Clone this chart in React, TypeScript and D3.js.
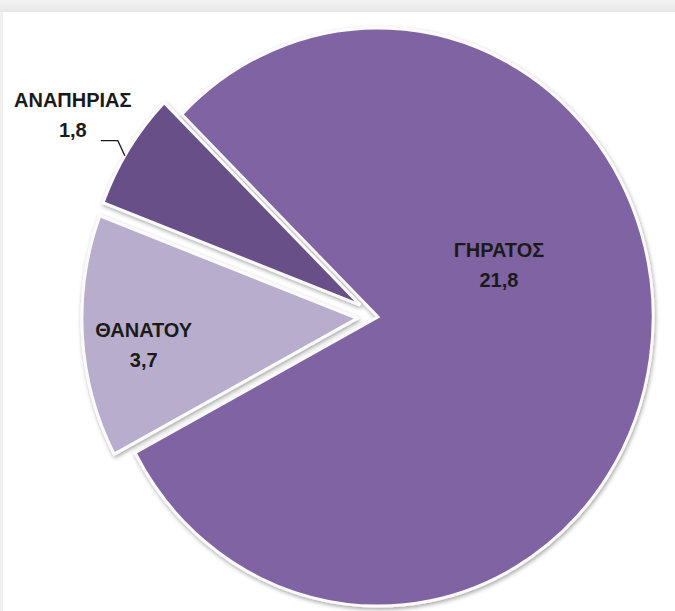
import React from "react";
import * as d3 from "d3";

const categories = ["ΓΗΡΑΤΟΣ", "ΘΑΝΑΤΟΥ", "ΑΝΑΠΗΡΙΑΣ"];
const values = [21.8, 3.7, 1.8];
const valueLabels = ["21,8", "3,7", "1,8"];
const colors = ["#8064A2", "#B8ADCC", "#674F87"];

const W = 675;
const H = 611;
const CX = 378;
const CY = 317;
const R = 289;
const SX = 0.952;
const START = (-45.5 * Math.PI) / 180;
const explode = [0, 22, 22];
// label placement: [angle (deg, clockwise from 12), radius fraction]
const labelPolar: [number, number][] = [
  [67.75, 0.475],
  [263.5, 0.857],
  [302.2, 1.311],
];

export default function App() {
  const pie = d3
    .pie<number>()
    .sort(null)
    .value((d) => d)
    .startAngle(START)
    .endAngle(START + 2 * Math.PI);
  const arcs = pie(values);
  const arc = d3.arc<d3.PieArcDatum<number>>().innerRadius(0).outerRadius(R);

  const offsets = arcs.map((a, i) => {
    const mid = (a.startAngle + a.endAngle) / 2;
    return [explode[i] * Math.sin(mid), -explode[i] * Math.cos(mid)];
  });

  const toScreen = (x: number, y: number) => [CX + SX * x, CY + y];

  const labels = labelPolar.map(([deg, f]) => {
    const a = (deg * Math.PI) / 180;
    return toScreen(R * f * Math.sin(a), -R * f * Math.cos(a));
  });

  // leader line for the smallest slice
  const small = arcs[2];
  const smid = (small.startAngle + small.endAngle) / 2 - (1.5 * Math.PI) / 180;
  const edge = toScreen(
    R * Math.sin(smid) + offsets[2][0],
    -R * Math.cos(smid) + offsets[2][1]
  );
  const elbow = [edge[0] - 7, edge[1] - 15];
  const lineStart = [elbow[0] - 17, elbow[1]];

  const font = "'Liberation Sans', Arial, sans-serif";

  return (
    <svg
      width={W}
      height={H}
      style={{ position: "absolute", left: 0, top: 0, background: "#fff" }}
    >
      <defs>
        <filter id="sh" x="-20%" y="-20%" width="140%" height="140%">
          <feDropShadow dx="1" dy="2" stdDeviation="2" floodColor="#000" floodOpacity="0.35" />
        </filter>
        <linearGradient id="topband" x1="0" y1="0" x2="0" y2="1">
          <stop offset="0" stopColor="#f4f4f4" />
          <stop offset="1" stopColor="#e6e6e6" />
        </linearGradient>
      </defs>
      <rect x={0} y={0} width={W} height={12} fill="url(#topband)" />
      <rect x={0} y={12} width={3} height={H - 12} fill="#f0f0f0" />
      <g transform={`translate(${CX},${CY}) scale(${SX},1)`}>
        {arcs.map((a, i) => (
          <path
            key={categories[i]}
            d={arc(a) || ""}
            transform={`translate(${offsets[i][0]},${offsets[i][1]})`}
            fill={colors[i]}
            stroke="#fbfbfb"
            strokeWidth={3}
            strokeLinejoin="miter"
            filter="url(#sh)"
          />
        ))}
      </g>
      <polyline
        points={`${lineStart[0]},${lineStart[1]} ${elbow[0]},${elbow[1]} ${edge[0]},${edge[1]}`}
        fill="none"
        stroke="#1a1a1a"
        strokeWidth={1.3}
      />
      {labels.map(([x, y], i) => (
        <text
          key={categories[i]}
          x={x}
          y={y}
          textAnchor="middle"
          fontFamily={font}
          fontWeight="bold"
          fontSize={20}
          fill="#1a1a1a"
        >
          <tspan x={x} y={y - 14.75 + 7}>
            {categories[i]}
          </tspan>
          <tspan x={x} y={y + 14.75 + 7}>
            {valueLabels[i]}
          </tspan>
        </text>
      ))}
    </svg>
  );
}
